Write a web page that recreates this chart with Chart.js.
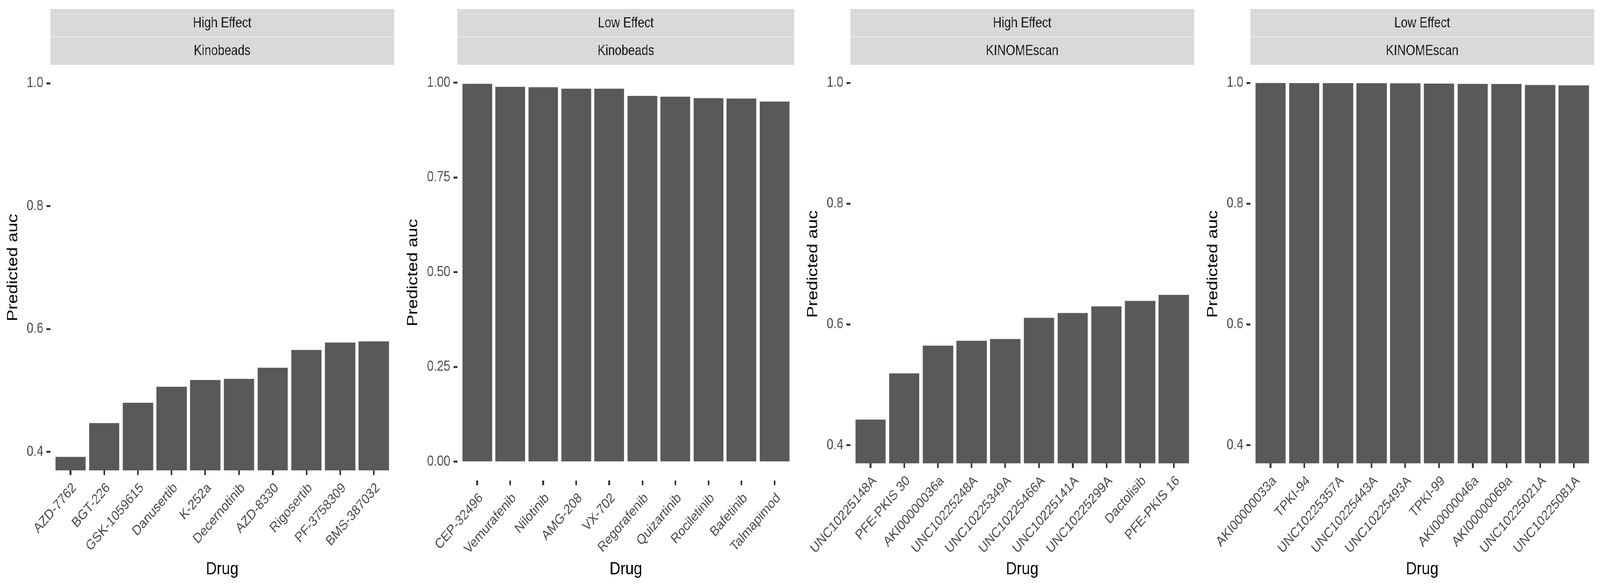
<!DOCTYPE html>
<html>
<head>
<meta charset="utf-8">
<title>Predicted auc by drug</title>
<script src="https://cdn.jsdelivr.net/npm/chart.js@4.4.1/dist/chart.umd.min.js"></script>
<style>
  html, body { margin: 0; padding: 0; background: #fff; overflow: hidden; }
  #wrap { position: relative; width: 4800px; height: 1500px; transform-origin: 0 0; }
  #wrap canvas { position: absolute; top: 0; }
</style>
</head>
<body>
<div id="wrap"></div>
<script>
/* ---------- data ---------- */
const drugsHighKino = ['AZD-7762', 'BGT-226', 'GSK-1059615', 'Danusertib', 'K-252a',
  'Decernotinib', 'AZD-8330', 'Rigosertib', 'PF-3758309', 'BMS-387032'];
const aucHighKino = [0.392, 0.447, 0.480, 0.506, 0.517, 0.519, 0.537, 0.566, 0.578, 0.580];

const drugsLowKino = ['CEP-32496', 'Vemurafenib', 'Nilotinib', 'AMG-208', 'VX-702',
  'Regorafenib', 'Quizartinib', 'Rociletinib', 'Bafetinib', 'Talmapimod'];
const aucLowKino = [0.997, 0.989, 0.988, 0.984, 0.984, 0.965, 0.963, 0.959, 0.958, 0.950];

const drugsHighKinome = ['UNC10225148A', 'PFE-PKIS 30', 'AKI00000036a', 'UNC10225248A', 'UNC10225349A',
  'UNC10225466A', 'UNC10225141A', 'UNC10225299A', 'Dactolisib', 'PFE-PKIS 16'];
const aucHighKinome = [0.4425, 0.519, 0.565, 0.573, 0.576, 0.611, 0.619, 0.630, 0.639, 0.649];

const drugsLowKinome = ['AKI00000033a', 'TPKI-94', 'UNC10225357A', 'UNC10225443A', 'UNC10225493A',
  'TPKI-99', 'AKI00000046a', 'AKI00000069a', 'UNC10225021A', 'UNC10225081A'];
const aucLowKinome = [0.9999, 0.9998, 0.9997, 0.9996, 0.9995, 0.999, 0.9985, 0.9983, 0.9966, 0.996];

const effectStrips = ['High Effect', 'Low Effect', 'High Effect', 'Low Effect'];
const assayStrips = ['Kinobeads', 'Kinobeads', 'KINOMEscan', 'KINOMEscan'];

const yTicksAuc = [0.4, 0.6, 0.8, 1.0];
const yLabelsAuc = ['0.4', '0.6', '0.8', '1.0'];
const yTicksFull = [0, 0.25, 0.5, 0.75, 1.0];
const yLabelsFull = ['0.00', '0.25', '0.50', '0.75', '1.00'];

const yRangeAuc = [0.37, 1.03];
const yRangeFull = [-0.0499, 1.047];

/* ---------- look ---------- */
const FONT = '"Liberation Sans", Arial, Helvetica, sans-serif';
const BAR = '#595959';
const TICK_TEXT = '#4D4D4D';
const TICK_LINE = '#333333';

// the figure is laid out on a 4800 x 1500 grid and stretched to fill the window
const wrap = document.getElementById('wrap');
const sx = window.innerWidth / 4800;
const sy = window.innerHeight / 1500;
wrap.style.transform = `scale(${sx}, ${sy})`;

/* facet strips (two stacked grey boxes above each panel) */
const stripPlugin = {
  id: 'strips',
  afterDraw(chart, args, opts) {
    const { ctx, chartArea } = chart;
    const x0 = chartArea.left;
    const w = chartArea.right - chartArea.left;
    ctx.save();
    ctx.fillStyle = '#D9D9D9';
    ctx.fillRect(x0, 23, w, 71.5);
    ctx.fillRect(x0, 95.5, w, 70.5);
    ctx.fillStyle = '#1A1A1A';
    ctx.font = '36px ' + FONT;
    ctx.textAlign = 'center';
    ctx.textBaseline = 'middle';
    ctx.fillText(opts.top, x0 + w / 2, 60);
    ctx.fillText(opts.bottom, x0 + w / 2, 131);
    ctx.restore();
  }
};

function drawPanel(idx, drugs, values, yTicks, yLabels, yRange, yAxisWidth, rightPad, xAxisHeight) {
  const canvas = document.createElement('canvas');
  canvas.width = 1200;
  canvas.height = 1500;
  canvas.style.left = (1200 * idx) + 'px';
  wrap.appendChild(canvas);

  const points = values.map((v, i) => ({ x: i + 1, y: v }));
  new Chart(canvas, {
    type: 'bar',
    data: {
      datasets: [{
        data: points,
        backgroundColor: BAR,
        borderWidth: 0,
        barPercentage: 0.9,
        categoryPercentage: 1.0
      }]
    },
    options: {
      responsive: false,
      animation: false,
      devicePixelRatio: Math.max(1, window.devicePixelRatio || 1),
      layout: { padding: { top: 166, right: rightPad, bottom: 0, left: 0 } },
      plugins: {
        legend: { display: false },
        tooltip: { enabled: false },
        strips: { top: effectStrips[idx], bottom: assayStrips[idx] }
      },
      scales: {
        x: {
          type: 'linear',
          min: 0.4,
          max: drugs.length + 0.6,
          offset: false,
          afterBuildTicks: s => { s.ticks = drugs.map((d, i) => ({ value: i + 1 })); },
          afterFit: s => { s.height = xAxisHeight; },
          border: { display: false },
          grid: {
            display: true, offset: false, drawOnChartArea: false, drawTicks: true,
            tickLength: 12, tickColor: TICK_LINE, tickWidth: 5
          },
          ticks: {
            autoSkip: false,
            minRotation: 45,
            maxRotation: 45,
            padding: 12,
            labelOffset: 12,
            color: TICK_TEXT,
            font: { family: FONT, size: 36 },
            callback: v => drugs[Math.round(v) - 1]
          },
          title: {
            display: true,
            text: 'Drug',
            color: '#000000',
            font: { family: FONT, size: 45, lineHeight: 1 },
            padding: { top: 0, bottom: 20 }
          }
        },
        y: {
          type: 'linear',
          min: yRange[0],
          max: yRange[1],
          beginAtZero: false,
          afterBuildTicks: s => { s.ticks = yTicks.map(v => ({ value: v })); },
          afterFit: s => { s.width = yAxisWidth; },
          border: { display: false },
          grid: {
            display: true, drawOnChartArea: false, drawTicks: true,
            tickLength: 12, tickColor: TICK_LINE, tickWidth: 5
          },
          ticks: {
            padding: 9,
            color: TICK_TEXT,
            font: { family: FONT, size: 36 },
            callback: (v, i) => yLabels[i]
          },
          title: {
            display: true,
            text: 'Predicted auc',
            color: '#000000',
            font: { family: FONT, size: 45, lineHeight: 1 },
            padding: { top: 17, bottom: 0 }
          }
        }
      }
    },
    plugins: [stripPlugin]
  });
}

drawPanel(0, drugsHighKino, aucHighKino, yTicksAuc, yLabelsAuc, yRangeAuc, 151, 18, 296);
drawPanel(1, drugsLowKino, aucLowKino, yTicksFull, yLabelsFull, yRangeFull, 172, 17, 270);
drawPanel(2, drugsHighKinome, aucHighKinome, yTicksAuc, yLabelsAuc, yRangeAuc, 151, 18, 314);
drawPanel(3, drugsLowKinome, aucLowKinome, yTicksAuc, yLabelsAuc, yRangeAuc, 151, 18, 314);
</script>
</body>
</html>
